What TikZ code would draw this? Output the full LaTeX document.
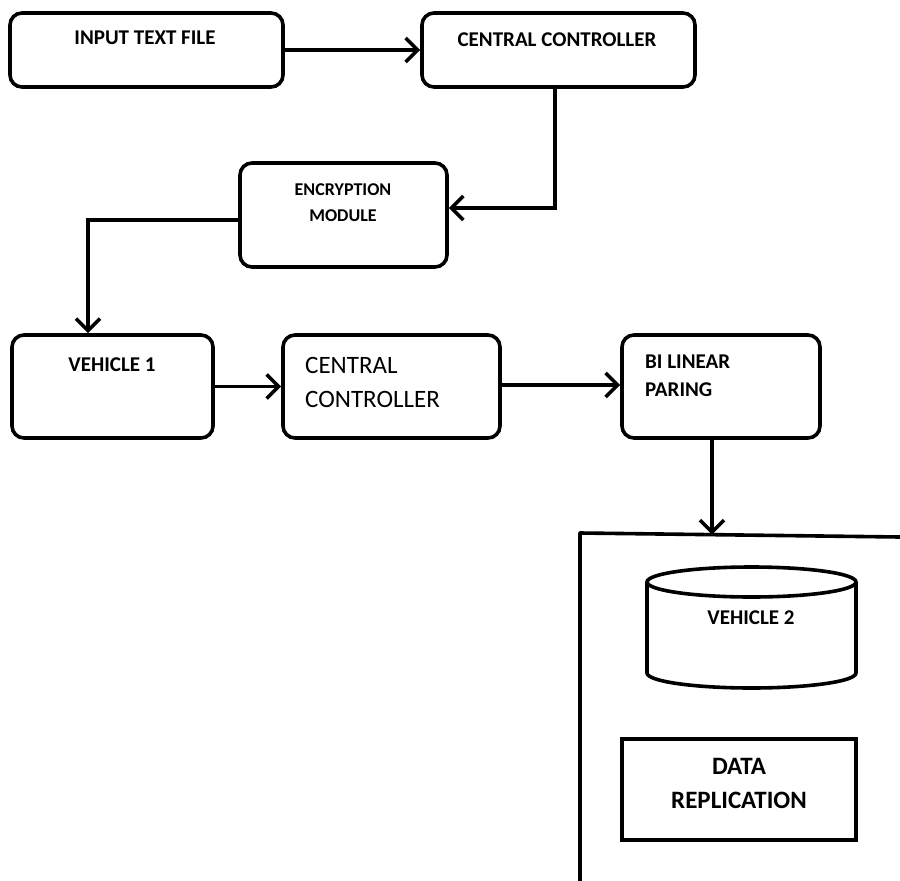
\documentclass[tikz,border=0pt]{standalone}
\usepackage{fontspec}
\setmainfont{Carlito}
\usetikzlibrary{arrows.meta}
\tikzset{
  box/.style={draw, line width=3.6pt, rounded corners=12pt, inner sep=0pt},
  sqbox/.style={draw, line width=3.6pt, inner sep=0pt},
  arr/.style={line width=3.6pt, -{Straight Barb[length=12pt,width=24pt,line width=3.6pt]}},
  ln/.style={line width=3.6pt},
  bt/.style={font=\bfseries\fontsize{21}{28}\selectfont, inner sep=0pt},
  et/.style={font=\bfseries\fontsize{18}{26}\selectfont, inner sep=0pt, align=center},
  rt/.style={font=\fontsize{25}{34}\selectfont, inner sep=0pt, align=left},
  dt/.style={font=\bfseries\fontsize{25}{34}\selectfont, inner sep=0pt, align=center},
}
\begin{document}
\begin{tikzpicture}[x=1pt,y=-1pt]
\useasboundingbox (0,0) rectangle (900,881);
% boxes
\node[box, minimum width=273pt, minimum height=74pt] (in) at (146.5,50) {};
\node[box, minimum width=273pt, minimum height=74pt] (cc1) at (558.5,50) {};
\node[box, minimum width=207pt, minimum height=104pt] (enc) at (343.5,215) {};
\node[box, minimum width=201pt, minimum height=103pt] (v1) at (112.5,386.5) {};
\node[box, minimum width=217pt, minimum height=103pt] (cc2) at (391.5,386.5) {};
\node[box, minimum width=198pt, minimum height=103pt] (blp) at (721,386.5) {};
\node[sqbox, minimum width=234pt, minimum height=101pt] (dr) at (739,789.5) {};
% texts
\node[bt] (tin) at (145,38) {INPUT TEXT FILE};
\node[bt] (tcc1) at (557,40) {CENTRAL CONTROLLER};
\node[et] (tenc) at (343,203) {ENCRYPTION\\MODULE};
\node[bt] (tv1) at (112,365) {VEHICLE 1};
\node[rt, anchor=west] (tcc2) at (305,382) {CENTRAL\\CONTROLLER};
\node[bt, align=left, anchor=west] (tblp) at (645,376) {BI LINEAR\\PARING};
\node[dt] (tdr) at (739,783) {DATA\\REPLICATION};
% cylinder
\draw[ln] (751.5,582) ellipse [x radius=104.5pt, y radius=15pt];
\draw[ln] (647,582) -- (647,673) arc[start angle=180, end angle=360, x radius=104.5pt, y radius=15pt] -- (856,582);
\node[bt] (tv2) at (751,618) {VEHICLE 2};
% container
\coordinate (ctl) at (580,533);
\coordinate (ctr) at (900,537);
\coordinate (cbl) at (580,881);
\draw[ln, line join=round] (cbl) -- (ctl) -- (ctr);
% connectors
\coordinate (k1) at (555,208);
\coordinate (k2) at (88,220);
\coordinate (k3) at (712,534.6);
\draw[arr] (in.east) -- (cc1.west);
\draw[arr] (cc1.south -| k1) |- (enc.east |- k1);
\draw[arr] (enc.west |- k2) -| (v1.north -| k2);
\draw[arr] (v1.east) -- (cc2.west);
\draw[arr] (cc2.east |- 0,385) -- (blp.west |- 0,385);
\draw[arr] (blp.south -| k3) -- (k3);
\end{tikzpicture}
\end{document}
